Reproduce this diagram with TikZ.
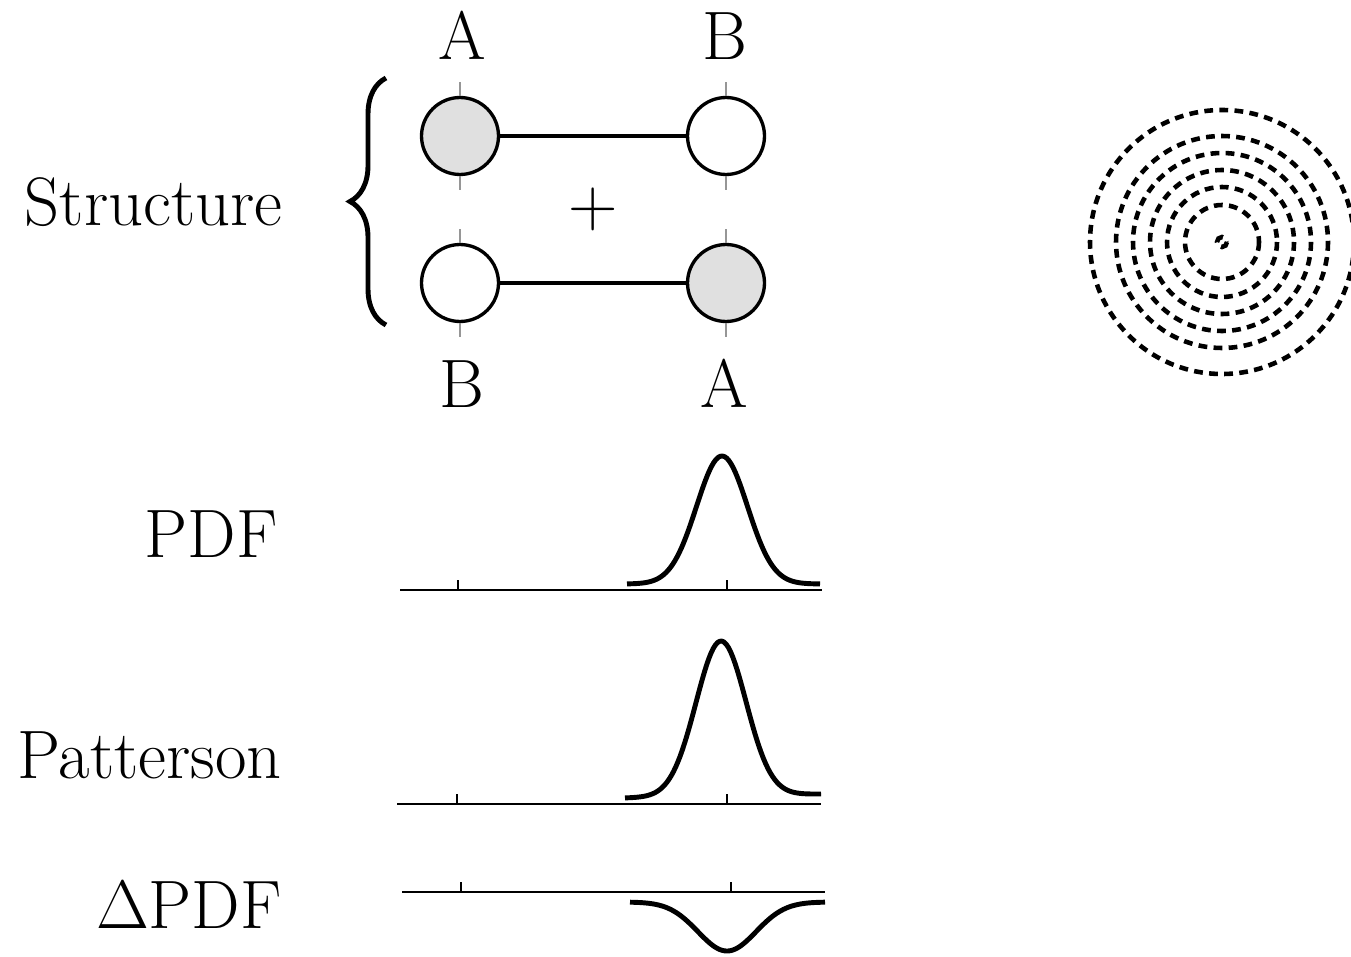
\RequirePackage{fix-cm}
\documentclass[tikz,border=0pt]{standalone}
\usepackage{fontspec}
\usepackage{tikz}
\usetikzlibrary{decorations.pathreplacing}
\definecolor{atomgray}{RGB}{224,224,224}
\definecolor{tickgray}{RGB}{150,150,150}

\begin{document}
\begin{tikzpicture}[x=0.02cm,y=-0.02cm,
  txt/.style={font=\fontsize{39}{47}\selectfont,inner sep=0pt},
  atom/.style={circle,draw,line width=1.9pt,minimum size=1.54cm,inner sep=0pt},
  bond/.style={line width=1.9pt},
  gtick/.style={tickgray,line width=0.7pt},
  axis/.style={line width=1.4pt},
  curve/.style={line width=2.8pt,line join=round},
  ring/.style={line width=2.6pt,dash pattern=on 5pt off 3.6pt}]
  \useasboundingbox (0,0) rectangle (1351,956);

  % row labels
  \node[txt,anchor=base east] (lstruct) at (283,225) {Structure};
  \node[txt,anchor=base east] (lpdf) at (278,557) {PDF};
  \node[txt,anchor=base east] (lpat) at (282,778) {Patterson};
  \node[txt,anchor=base east] (ldpdf) at (282,928) {$\Delta$PDF};

  % the two A-B configurations
  \node[atom,fill=atomgray] (a1) at (460,136) {};
  \node[atom,fill=white] (b1) at (726,136) {};
  \node[atom,fill=white] (b2) at (460,283) {};
  \node[atom,fill=atomgray] (a2) at (726,283) {};
  \draw[bond] (a1) -- (b1);
  \draw[bond] (b2) -- (a2);
  \foreach \n in {a1,b1,b2,a2} {
    \draw[gtick] (\n.north) -- ++(0,-14);
    \draw[gtick] (\n.south) -- ++(0,14);
  }
  \node[txt,anchor=base] (ta) at (462,60) {A};
  \node[txt,anchor=base] (tb) at (725,60) {B};
  \node[txt,anchor=base] (bb) at (462,407) {B};
  \node[txt,anchor=base] (ba) at (724,407) {A};
  \node[txt] (plus) at (593,209) {+};
  \draw[line width=2.8pt,decorate,decoration={brace,amplitude=0.72cm}] (386,325) -- (386,78);

  % pdf
  \draw[axis] (400,590) -- (822,590);
  \draw[axis] (458,590) -- ++(0,-10);
  \draw[axis] (727,590) -- ++(0,-10);
  \draw[curve] plot[domain=627:820,samples=90] (\x,{584-128*exp(-(\x-722)^2/1300)});

  % patterson
  \draw[axis] (397,804) -- (821,804);
  \draw[axis] (457,804) -- ++(0,-10);
  \draw[axis] (727,804) -- ++(0,-10);
  \draw[curve] plot[domain=625:821,samples=90] (\x,{798-4*(\x-625)/196-155*exp(-(\x-721)^2/1250)});

  % difference
  \draw[axis] (402,892) -- (825,892);
  \draw[axis] (461,892) -- ++(0,-10);
  \draw[axis] (731,892) -- ++(0,-10);
  \draw[curve] plot[domain=630:825,samples=90] (\x,{902+49*exp(-(\x-727)^2/1682)});

  % concentric shells
  \coordinate (ctr) at (1222,242);
  \foreach \r in {5,37,55,72,89,106,132}
    \draw[ring] (ctr) circle (\r);
\end{tikzpicture}
\end{document}
